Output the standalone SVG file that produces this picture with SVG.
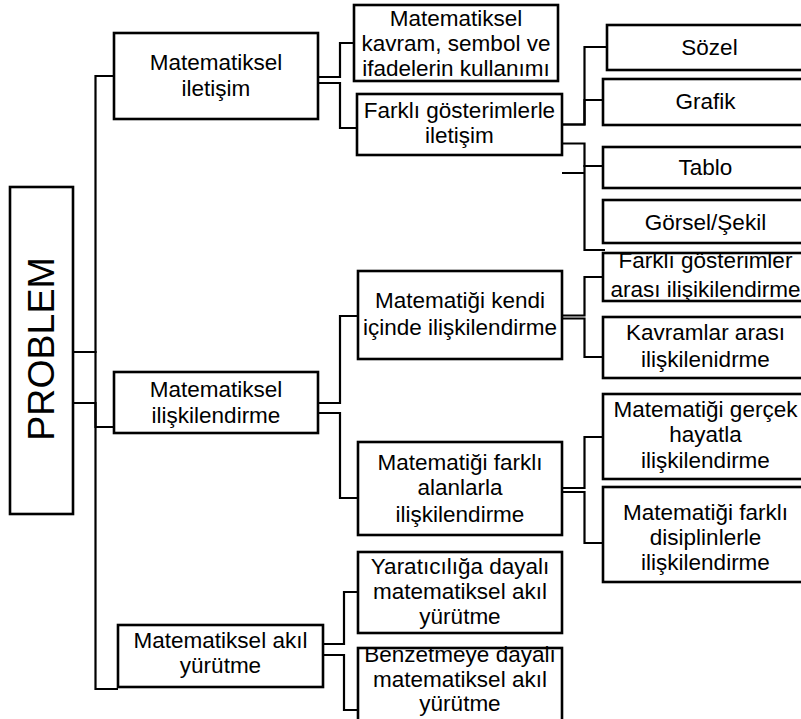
<svg xmlns="http://www.w3.org/2000/svg" width="801" height="719" viewBox="0 0 801 719">
<style>
.box{fill:#fff;stroke:#000;stroke-width:2.6}
.conn{fill:none;stroke:#000;stroke-width:2.2}
text{font-family:"Liberation Sans",Arial,sans-serif;font-size:22.5px;fill:#000;text-anchor:middle}
.big{font-size:37.5px}
</style>
<rect width="801" height="719" fill="#fff"/>
<g id="connectors">
<path class="conn" d="M73,352 H95.5 V76 H114"/>
<path class="conn" d="M73,352 H95.5 V427 H114"/>
<path class="conn" d="M73,403 H95.5 V689 H118"/>
<path class="conn" d="M318,77 H340 V43 H354"/>
<path class="conn" d="M318,83 H340 V128 H357"/>
<path class="conn" d="M562,124.5 H584.5 V47 H607"/>
<path class="conn" d="M562,124.5 H584.5 V100 H603"/>
<path class="conn" d="M562,143.5 H584.5 V166 H603"/>
<path class="conn" d="M562,173 H584.5 M584.5,165 V250 H605"/>
<path class="conn" d="M318,403 H340 V316 H358"/>
<path class="conn" d="M318,413 H340 V498 H358"/>
<path class="conn" d="M562,315.5 H584.5 V277 H603"/>
<path class="conn" d="M562,318.5 H584.5 V357 H603"/>
<path class="conn" d="M562,488 H584.5 V437 H603"/>
<path class="conn" d="M562,492 H584.5 V543 H603"/>
<path class="conn" d="M323,644 H344 V592 H358"/>
<path class="conn" d="M323,655 H344 V710 H358"/>
</g>
<g id="n-problem">
<rect class="box" x="10" y="187" width="63" height="327"/>
<text class="big" transform="translate(54,349) rotate(-90)">PROBLEM</text>
</g>
<g id="n-iletisim">
<rect class="box" x="114" y="33" width="204" height="86"/>
<text x="216" y="70">Matematiksel</text>
<text x="216" y="96">iletişim</text>
</g>
<g id="n-kavram">
<rect class="box" x="354" y="5" width="204" height="76"/>
<text x="456" y="25.5">Matematiksel</text>
<text x="456" y="50.5">kavram, sembol ve</text>
<text x="456" y="76">ifadelerin kullanımı</text>
</g>
<g id="n-gosterim">
<rect class="box" x="357" y="94" width="205" height="61"/>
<text x="459.5" y="118">Farklı gösterimlerle</text>
<text x="459.5" y="143">iletişim</text>
</g>
<g id="n-sozel">
<rect class="box" x="607" y="25" width="205" height="45"/>
<text x="709.5" y="55">Sözel</text>
</g>
<g id="n-grafik">
<rect class="box" x="603" y="79" width="205" height="46"/>
<text x="705.5" y="108.5">Grafik</text>
</g>
<g id="n-tablo">
<rect class="box" x="603" y="147" width="205" height="41"/>
<text x="705.5" y="175">Tablo</text>
</g>
<g id="n-gorsel">
<rect class="box" x="603" y="200" width="205" height="43"/>
<text x="705.5" y="229.5">Görsel/Şekil</text>
</g>
<g id="n-farkli-arasi">
<rect class="box" x="603" y="253" width="205" height="48"/>
<text x="705.5" y="268.3">Farklı gösterimler</text>
<text x="705.5" y="296.7">arası ilişikilendirme</text>
</g>
<g id="n-kavramlar">
<rect class="box" x="603" y="317" width="205" height="61"/>
<text x="705.5" y="340">Kavramlar arası</text>
<text x="705.5" y="366.7">ilişkilenidrme</text>
</g>
<g id="n-gercek">
<rect class="box" x="603" y="394" width="205" height="85"/>
<text x="705.5" y="416.7">Matematiği gerçek</text>
<text x="705.5" y="441.5">hayatla</text>
<text x="705.5" y="468">ilişkilendirme</text>
</g>
<g id="n-disiplin">
<rect class="box" x="603" y="487" width="205" height="95"/>
<text x="705.5" y="520">Matematiği farklı</text>
<text x="705.5" y="545">disiplinlerle</text>
<text x="705.5" y="570">ilişkilendirme</text>
</g>
<g id="n-iliskilendirme">
<rect class="box" x="114" y="372" width="204" height="61"/>
<text x="216" y="397.3">Matematiksel</text>
<text x="216" y="423.3">ilişkilendirme</text>
</g>
<g id="n-kendi">
<rect class="box" x="358" y="271" width="204" height="88"/>
<text x="460" y="308.3">Matematiği kendi</text>
<text x="460" y="335">içinde ilişkilendirme</text>
</g>
<g id="n-alanlar">
<rect class="box" x="358" y="442" width="204" height="93"/>
<text x="460" y="470">Matematiği farklı</text>
<text x="460" y="495">alanlarla</text>
<text x="460" y="521.7">ilişkilendirme</text>
</g>
<g id="n-akil">
<rect class="box" x="118" y="625" width="205" height="62"/>
<text x="220.5" y="648.3">Matematiksel akıl</text>
<text x="220.5" y="673.3">yürütme</text>
</g>
<g id="n-yaratici">
<rect class="box" x="358" y="552" width="204" height="81"/>
<text x="460" y="573.5">Yaratıcılığa dayalı</text>
<text x="460" y="599">matematiksel akıl</text>
<text x="460" y="624">yürütme</text>
</g>
<g id="n-benzet">
<rect class="box" x="358" y="648" width="204" height="80"/>
<text x="460" y="661.7">Benzetmeye dayalı</text>
<text x="460" y="686.7">matematiksel akıl</text>
<text x="460" y="711">yürütme</text>
</g>
</svg>
